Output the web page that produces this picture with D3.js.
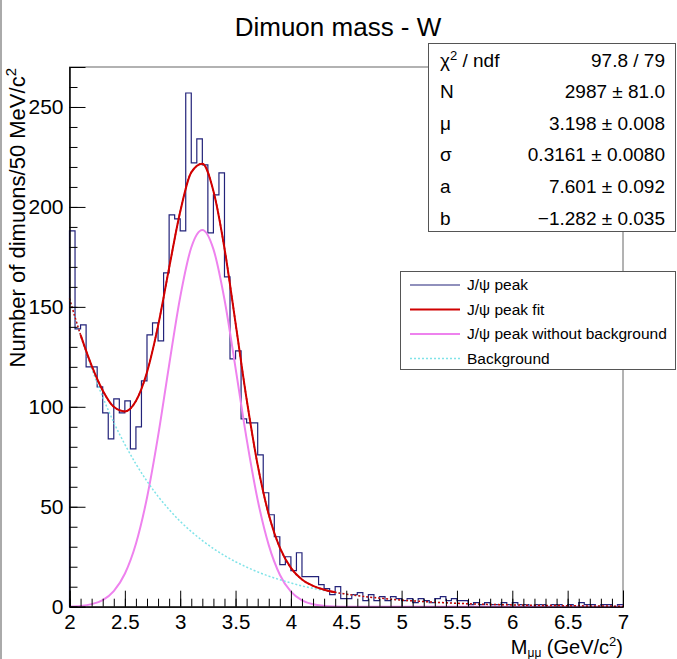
<!DOCTYPE html>
<html>
<head>
<meta charset="utf-8">
<script src="https://cdn.jsdelivr.net/npm/d3@7"></script>
<style>
  body { margin: 0; background: #fff; }
  svg { display: block; font-family: "Liberation Sans", Arial, Helvetica, sans-serif; }
</style>
</head>
<body>
<svg id="chart" width="677" height="659"></svg>
<script>
// histogram: 100 bins of 50 MeV from 2 to 7 GeV
const xMin = 2;
const xMax = 7;
const binWidth = 0.05;
const counts = [
  188, 139, 141, 120, 120, 110, 97, 84, 104, 97,
  103, 79, 90, 113, 136, 142, 133, 167, 196, 194,
  188, 257, 222, 234, 221, 187, 206, 217, 165, 124,
  128, 94, 92, 92, 76, 57, 46, 35, 21, 25,
  18, 27, 15, 15, 15, 11, 9, 6, 10, 4,
  4, 6, 7, 3, 6, 3, 5, 3, 5, 4,
  3, 4, 2, 4, 3, 2, 4, 5, 3, 4,
  3, 3, 1, 2, 1, 2, 1, 1, 2, 1,
  2, 1, 1, 0, 1, 1, 0, 1, 1, 0,
  1, 0, 2, 1, 1, 0, 1, 1, 0, 1
];

// curves
const curveX = [2.0, 2.1, 2.2, 2.3, 2.4, 2.5, 2.6, 2.7, 2.8, 2.9, 3.0, 3.1, 3.2, 3.3, 3.4, 3.5, 3.6, 3.7, 3.8, 3.9,
  4.0, 4.1, 4.2, 4.3, 4.4, 4.5, 4.6, 4.8, 5.0, 5.25, 5.5, 5.75, 6.0, 6.25, 6.5, 6.75, 7.0];
const fitTotal = [154.2, 136.0, 120.6, 108.2, 100.0, 97.7, 102.9, 117.3, 140.5, 169.5, 197.6, 217.3, 221.6, 208.0, 179.3, 141.9, 103.8, 70.8, 46.1, 29.5,
  19.4, 13.6, 10.4, 8.5, 7.2, 6.3, 5.5, 4.3, 3.3, 2.4, 1.7, 1.2, 0.9, 0.65, 0.5, 0.35, 0.25];
const peakOnly = [0.1, 0.4, 1.3, 3.3, 7.8, 16.5, 31.5, 54.5, 85.3, 120.9, 154.9, 179.7, 188.5, 178.9, 153.7, 119.4, 84.0, 53.4, 30.8, 16.0,
  7.5, 3.2, 1.2, 0.4, 0.1, 0, 0, 0, 0, 0, 0, 0, 0, 0, 0, 0, 0];
const background = [154.1, 135.6, 119.3, 104.9, 92.2, 81.2, 71.4, 62.8, 55.2, 48.6, 42.7, 37.6, 33.1, 29.1, 25.6, 22.5, 19.8, 17.4, 15.3, 13.5,
  11.9, 10.4, 9.2, 8.1, 7.1, 6.3, 5.5, 4.3, 3.3, 2.4, 1.7, 1.2, 0.9, 0.65, 0.5, 0.35, 0.25];
const fitRange = [2.1, 4.4];

const yMajor = [0, 50, 100, 150, 200, 250];
const yMinor = d3.range(0, 271, 10);
const xMajor = [2, 2.5, 3, 3.5, 4, 4.5, 5, 5.5, 6, 6.5, 7];
const xMinor = d3.range(20, 71).map(d => d / 10);

const statsRows = [
  ["χ2 / ndf", "97.8 / 79"],
  ["N", "2987 ± 81.0"],
  ["μ", "3.198 ± 0.008"],
  ["σ", "0.3161 ± 0.0080"],
  ["a", "7.601 ± 0.092"],
  ["b", "−1.282 ± 0.035"]
];
const legendItems = [
  { label: "J/ψ peak", color: "#23237a", width: 1.2, dash: null },
  { label: "J/ψ peak fit", color: "#d00000", width: 2, dash: null },
  { label: "J/ψ peak without background", color: "#ee82ee", width: 2, dash: null },
  { label: "Background", color: "#7fe3e8", width: 1.5, dash: "2,2" }
];

const svg = d3.select("#chart");
const plotLeft = 69.5, plotRight = 623, plotTop = 67, plotBottom = 606.7;

const x = d3.scaleLinear().domain([xMin, xMax]).range([plotLeft, plotRight]);
const y = d3.scaleLinear().domain([0, 270]).range([plotBottom, plotTop]);

// canvas edge
svg.append("line").attr("x1", 1).attr("x2", 1).attr("y1", 0).attr("y2", 659)
  .attr("stroke", "#aaa").attr("stroke-width", 2);

// frame
svg.append("rect")
  .attr("x", plotLeft).attr("y", plotTop)
  .attr("width", plotRight - plotLeft).attr("height", plotBottom - plotTop)
  .attr("fill", "none").attr("stroke", "#666").attr("stroke-width", 1);

// histogram
const histPts = counts.map((c, i) => [xMin + i * binWidth, c]);
histPts.push([xMax, counts[counts.length - 1]]);
const step = d3.line().x(d => x(d[0])).y(d => y(d[1])).curve(d3.curveStepAfter);
svg.append("path")
  .attr("d", "M" + x(xMin) + "," + y(0) + "L" + step(histPts).slice(1) + "L" + x(xMax) + "," + y(0))
  .attr("fill", "none").attr("stroke", "#23237a").attr("stroke-width", 1.2);

const curve = vals => d3.line()
  .x(d => x(d[0])).y(d => y(d[1]))
  .curve(d3.curveMonotoneX)(curveX.map((cx, i) => [cx, vals[i]]));

svg.append("path").attr("d", curve(peakOnly))
  .attr("fill", "none").attr("stroke", "#ee82ee").attr("stroke-width", 2);
svg.append("path").attr("d", curve(background))
  .attr("fill", "none").attr("stroke", "#7fe3e8").attr("stroke-width", 1.5).attr("stroke-dasharray", "2,2");
svg.append("path").attr("d", curve(fitTotal))
  .attr("fill", "none").attr("stroke", "#d00000").attr("stroke-width", 1.5).attr("stroke-dasharray", "2,2");

const inFit = curveX.map((cx, i) => [cx, fitTotal[i]]).filter(d => d[0] >= fitRange[0] && d[0] <= fitRange[1]);
svg.append("path")
  .attr("d", d3.line().x(d => x(d[0])).y(d => y(d[1])).curve(d3.curveMonotoneX)(inFit))
  .attr("fill", "none").attr("stroke", "#d00000").attr("stroke-width", 2);

// y axis
const yAxisG = svg.append("g").attr("transform", `translate(${plotLeft},0)`);
yAxisG.call(d3.axisLeft(y).tickValues(yMinor).tickSize(-8).tickFormat(""));
yAxisG.append("g").call(d3.axisLeft(y).tickValues(yMajor).tickSize(-16).tickPadding(6));
yAxisG.selectAll(".domain").attr("stroke", "#000");
yAxisG.selectAll("text").attr("font-size", 21).attr("font-family", "Liberation Sans, Arial, sans-serif").attr("fill", "#000");

// x axis
const xAxisG = svg.append("g").attr("transform", `translate(0,${plotBottom})`);
xAxisG.call(d3.axisBottom(x).tickValues(xMinor).tickSize(-8).tickFormat(""));
xAxisG.append("g").call(d3.axisBottom(x).tickValues(xMajor).tickSize(-16).tickPadding(8).tickFormat(d => String(d)));
xAxisG.selectAll(".domain").attr("stroke", "#000");
xAxisG.selectAll("text").attr("font-size", 20.5).attr("font-family", "Liberation Sans, Arial, sans-serif").attr("fill", "#000");

// title
svg.append("text").attr("x", 338).attr("y", 36).attr("text-anchor", "middle")
  .attr("font-size", 26).text("Dimuon mass - W");

// x title
const xt = svg.append("text").attr("x", plotRight).attr("y", 654).attr("text-anchor", "end").attr("font-size", 20);
xt.append("tspan").text("M");
xt.append("tspan").attr("dy", 2.5).attr("font-size", 12).text("μμ");
xt.append("tspan").attr("dy", -2.5).text(" (GeV/c");
xt.append("tspan").attr("dy", -8).attr("font-size", 13).text("2");
xt.append("tspan").attr("dy", 8).text(")");

// y title
const yt = svg.append("text").attr("transform", "translate(25,68) rotate(-90)")
  .attr("text-anchor", "end").attr("font-size", 22);
yt.append("tspan").text("Number of dimuons/50 MeV/c");
yt.append("tspan").attr("dy", -9).attr("font-size", 15).text("2");

// stats box
const sb = svg.append("g");
sb.append("rect").attr("x", 428.5).attr("y", 43.5).attr("width", 247).attr("height", 188)
  .attr("fill", "#fff").attr("stroke", "#555");
statsRows.forEach((r, i) => {
  const yy = 66.5 + i * 31.6;
  const lt = sb.append("text").attr("x", 440).attr("y", yy).attr("font-size", 19);
  if (i === 0) {
    lt.append("tspan").text("χ");
    lt.append("tspan").attr("dy", -7).attr("font-size", 13).text("2");
    lt.append("tspan").attr("dy", 7).text(" / ndf");
  } else {
    lt.text(r[0]);
  }
  sb.append("text").attr("x", 665).attr("y", yy).attr("text-anchor", "end").attr("font-size", 19).text(r[1]);
});

// legend
const lg = svg.append("g");
lg.append("rect").attr("x", 400.5).attr("y", 271.5).attr("width", 275).attr("height", 98)
  .attr("fill", "#fff").attr("stroke", "#555");
legendItems.forEach((d, i) => {
  const yy = 285 + i * 24.5;
  lg.append("line").attr("x1", 410).attr("x2", 460).attr("y1", yy).attr("y2", yy)
    .attr("stroke", d.color).attr("stroke-width", d.width).attr("stroke-dasharray", d.dash);
  lg.append("text").attr("x", 467).attr("y", yy).attr("dy", "0.35em").attr("font-size", 15.5).text(d.label);
});
</script>
</body>
</html>
